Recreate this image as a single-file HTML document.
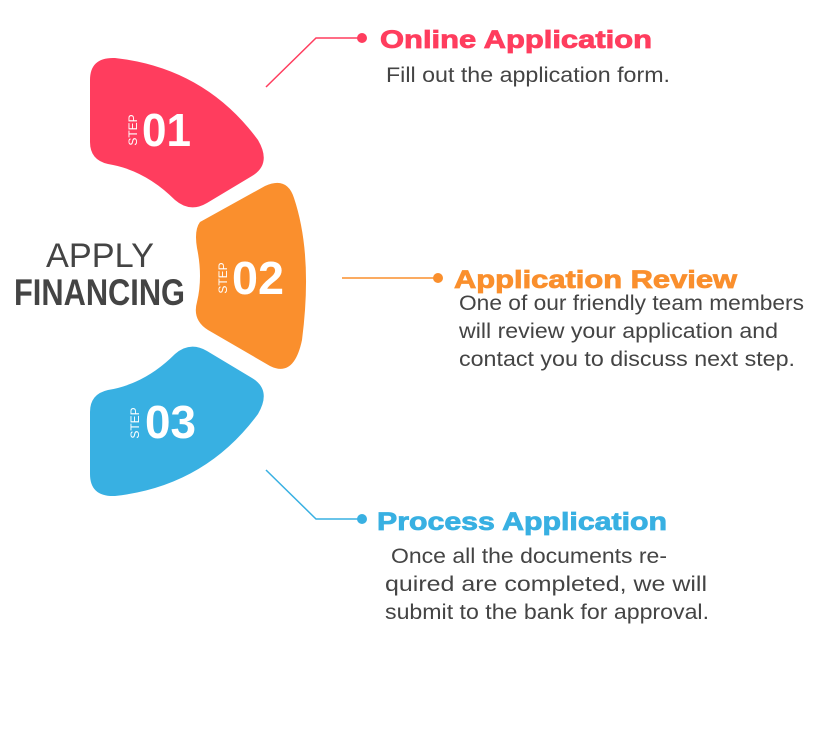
<!DOCTYPE html>
<html><head><meta charset="utf-8"><style>
html,body{margin:0;padding:0;background:#fff;}
svg{display:block;}
text{font-family:"Liberation Sans",sans-serif;}
</style></head><body>
<svg width="829" height="732" viewBox="0 0 829 732" xmlns="http://www.w3.org/2000/svg">
<path d="M90,80 Q90,57 115,58 Q205,68 258,140 Q272,164 252,176 L207,203 Q190,213 175,200 Q145,170 108,164 Q90,160 90,142 Z" fill="#ff3d5e"/>
<path d="M200,222 L265,186 Q287,176 294,198 Q313,255 302,340 Q294,378 270,366 L208,330 Q192,320 197,302 Q203,277 197,248 Q194,230 200,222 Z" fill="#fa8f2d"/>
<path d="M90,474 Q90,497 115,496 Q205,486 258,414 Q272,390 252,378 L207,351 Q190,341 175,354 Q145,384 108,390 Q90,394 90,412 Z" fill="#38b0e2"/>

<text x="142" y="146" font-size="46" font-weight="bold" fill="#fff" textLength="49" lengthAdjust="spacingAndGlyphs">01</text>
<text transform="translate(137,130) rotate(-90)" text-anchor="middle" font-size="12" fill="#fff">STEP</text>
<text x="232" y="294" font-size="46" font-weight="bold" fill="#fff" textLength="52" lengthAdjust="spacingAndGlyphs">02</text>
<text transform="translate(227,278) rotate(-90)" text-anchor="middle" font-size="12" fill="#fff">STEP</text>
<text x="145" y="438" font-size="46" font-weight="bold" fill="#fff" textLength="51" lengthAdjust="spacingAndGlyphs">03</text>
<text transform="translate(139,423) rotate(-90)" text-anchor="middle" font-size="12" fill="#fff">STEP</text>

<text x="46" y="267" font-size="34" fill="#444" textLength="108" lengthAdjust="spacingAndGlyphs">APPLY</text>
<text x="14" y="305" font-size="37" font-weight="bold" fill="#444" textLength="171" lengthAdjust="spacingAndGlyphs">FINANCING</text>

<polyline points="266,87 316,38 360,38" fill="none" stroke="#ff3d5e" stroke-width="1.5"/>
<circle cx="362" cy="38" r="5" fill="#ff3d5e"/>
<line x1="342" y1="278" x2="437" y2="278" stroke="#fa8f2d" stroke-width="1.5"/>
<circle cx="438" cy="278" r="5" fill="#fa8f2d"/>
<polyline points="266,470 316,519 360,519" fill="none" stroke="#38b0e2" stroke-width="1.5"/>
<circle cx="362" cy="519" r="5" fill="#38b0e2"/>

<g stroke-width="0.8">
<text x="380" y="48" font-size="25" font-weight="bold" fill="#ff3d5e" stroke="#ff3d5e" textLength="272" lengthAdjust="spacingAndGlyphs">Online Application</text>
<text x="454" y="288" font-size="25" font-weight="bold" fill="#fa8f2d" stroke="#fa8f2d" textLength="283" lengthAdjust="spacingAndGlyphs">Application Review</text>
<text x="377" y="530" font-size="25" font-weight="bold" fill="#38b0e2" stroke="#38b0e2" textLength="290" lengthAdjust="spacingAndGlyphs">Process Application</text>
</g>
<text x="386" y="82" font-size="21" fill="#444" textLength="284" lengthAdjust="spacingAndGlyphs">Fill out the application form.</text>
<text x="459" y="310" font-size="21" fill="#444" textLength="345" lengthAdjust="spacingAndGlyphs">One of our friendly team members</text>
<text x="459" y="338" font-size="21" fill="#444" textLength="319" lengthAdjust="spacingAndGlyphs">will review your application and</text>
<text x="459" y="366" font-size="21" fill="#444" textLength="336" lengthAdjust="spacingAndGlyphs">contact you to discuss next step.</text>
<text x="391" y="563" font-size="21" fill="#444" textLength="276" lengthAdjust="spacingAndGlyphs">Once all the documents re-</text>
<text x="385" y="591" font-size="21" fill="#444" textLength="322" lengthAdjust="spacingAndGlyphs">quired are completed, we will</text>
<text x="385" y="619" font-size="21" fill="#444" textLength="324" lengthAdjust="spacingAndGlyphs">submit to the bank for approval.</text>
</svg>
</body></html>
